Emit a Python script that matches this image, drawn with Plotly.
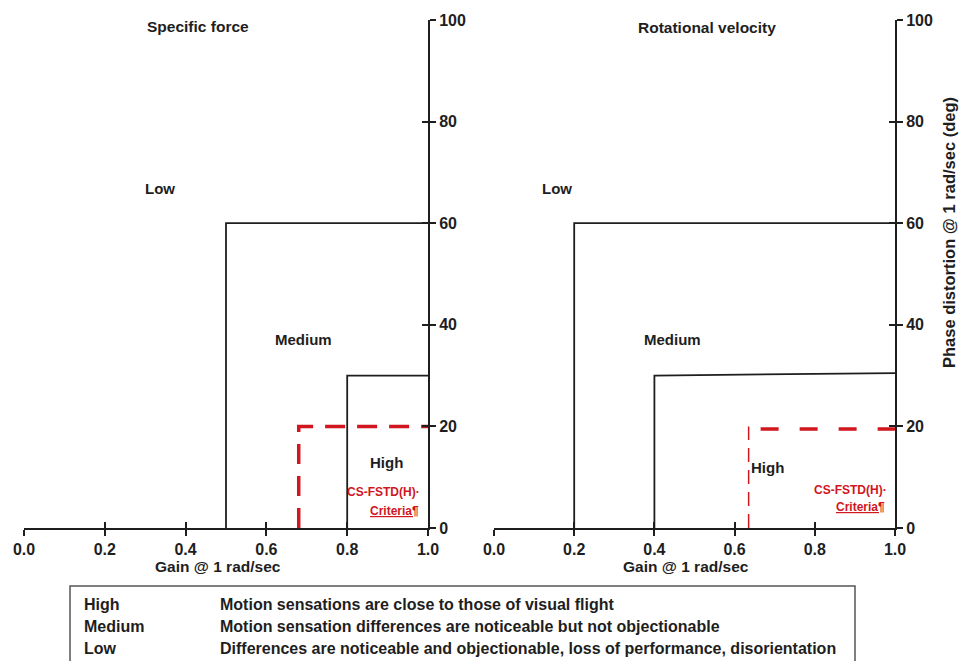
import plotly.graph_objects as go

# ---------------- data ----------------
gain_ticks = [0.0, 0.2, 0.4, 0.6, 0.8, 1.0]
gain_ticktext = ["0.0", "0.2", "0.4", "0.6", "0.8", "1.0"]
phase_ticks = [0, 20, 40, 60, 80, 100]

# Specific force boundaries (gain, phase)
sf_medium_x = [0.5, 0.5, 1.0]
sf_medium_y = [0, 60, 60]
sf_high_x = [0.8, 0.8, 1.0]
sf_high_y = [0, 30, 30]
sf_cs_x = [0.68, 0.68, 1.0]
sf_cs_y = [0, 20, 20]

# Rotational velocity boundaries
rv_medium_x = [0.2, 0.2, 1.0]
rv_medium_y = [0, 60, 60]
rv_high_x = [0.4, 0.4, 1.0]
rv_high_y = [0, 30, 30.5]
rv_cs_vx = [0.635, 0.635]
rv_cs_vy = [0, 20]
rv_cs_hx = [0.64, 1.0]
rv_cs_hy = [19.5, 19.5]

table_levels = ["High", "Medium", "Low"]
table_desc = [
    "Motion sensations are close to those of visual flight",
    "Motion sensation differences are noticeable but not objectionable",
    "Differences are noticeable and objectionable, loss of performance, disorientation",
]

# ---------------- figure ----------------
W, H = 959, 661
BLACK = "#1e1e1e"
RED = "#d0161e"
FONT = "Liberation Sans"

def px(v):
    return v / W

def py(v):
    return 1 - v / H

left_dom = [px(24), px(428)]
right_dom = [px(494), px(895)]
y_dom = [py(528), py(20)]

fig = go.Figure()

def line(x, y, xa, ya, color=BLACK, width=1.8, dash="solid"):
    fig.add_trace(go.Scatter(x=x, y=y, xaxis=xa, yaxis=ya, mode="lines",
                             line=dict(color=color, width=width, dash=dash),
                             hoverinfo="skip", showlegend=False))

line(sf_medium_x, sf_medium_y, "x", "y")
line(sf_high_x, sf_high_y, "x", "y")
line(sf_cs_x, sf_cs_y, "x", "y", color=RED, width=3.5, dash="20px,12px")

line(rv_medium_x, rv_medium_y, "x2", "y2")
line(rv_high_x, rv_high_y, "x2", "y2")
line(rv_cs_vx, rv_cs_vy, "x2", "y2", color=RED, width=1.5, dash="14px,8px")
line(rv_cs_hx, rv_cs_hy, "x2", "y2", color=RED, width=3.5, dash="0px,10px,18px,11px")

# invisible traces for overlay axes (inside tick marks)
for xa, ya in (("x3", "y3"), ("x4", "y4")):
    fig.add_trace(go.Scatter(x=[None], y=[None], xaxis=xa, yaxis=ya, mode="lines",
                             showlegend=False, hoverinfo="skip"))

tickfont = dict(family=FONT, size=16, color=BLACK, weight="bold")

def xax(dom, anchor, inside=False, overlay=None):
    d = dict(domain=dom, range=[0, 1], anchor=anchor, tickmode="array",
             tickvals=gain_ticks, ticktext=gain_ticktext, showgrid=False,
             zeroline=False, ticklen=6, tickwidth=2, tickcolor=BLACK,
             fixedrange=True, automargin=False)
    if inside:
        d.update(ticks="inside", showticklabels=False, showline=False, overlaying=overlay)
    else:
        d.update(ticks="outside", showline=True, linewidth=2, linecolor=BLACK,
                 tickfont=tickfont)
    return d

def yax(anchor, inside=False, overlay=None):
    d = dict(domain=y_dom, range=[0, 100], anchor=anchor, side="right",
             tickmode="array", tickvals=phase_ticks, showgrid=False,
             zeroline=False, ticklen=6, tickwidth=2, tickcolor=BLACK,
             fixedrange=True, automargin=False)
    if inside:
        d.update(ticks="inside", showticklabels=False, showline=False, overlaying=overlay)
    else:
        d.update(ticks="outside", showline=True, linewidth=2, linecolor=BLACK,
                 tickfont=tickfont)
    return d

fig.update_layout(
    width=W, height=H,
    margin=dict(l=0, r=0, t=0, b=0, autoexpand=False),
    paper_bgcolor="white", plot_bgcolor="rgba(0,0,0,0)",
    showlegend=False,
    xaxis=xax(left_dom, "y"),
    yaxis=yax("x"),
    xaxis2=xax(right_dom, "y2"),
    yaxis2=yax("x2"),
    xaxis3=xax(left_dom, "y3", inside=True, overlay="x"),
    yaxis3=yax("x3", inside=True, overlay="y"),
    xaxis4=xax(right_dom, "y4", inside=True, overlay="x2"),
    yaxis4=yax("x4", inside=True, overlay="y2"),
)

ann = []

def label(text, x, y, xref, yref, size=14, color=BLACK, bold=True, xanchor="center", **kw):
    ann.append(dict(text=text, x=x, y=y, xref=xref, yref=yref, showarrow=False,
                    xanchor=xanchor, yanchor="middle",
                    font=dict(family=FONT, size=size, color=color,
                              weight="bold" if bold else "normal"), **kw))

# panel texts – left
label("Specific force", 0.431, 98.8, "x", "y", size=15.5)
label("Low", 0.337, 66.9, "x", "y", size=15)
label("Medium", 0.693, 37.2, "x", "y", size=15)
label("High", 0.898, 12.8, "x", "y", size=15)
label("CS-FSTD(H)·", 0.889, 7.1, "x", "y", size=12, color=RED)
label("<u>Criteria¶</u>", 0.916, 3.4, "x", "y", size=12, color=RED)

# panel texts – right
label("Rotational velocity", 0.531, 98.6, "x2", "y2", size=15.5)
label("Low", 0.157, 66.9, "x2", "y2", size=15)
label("Medium", 0.446, 37.2, "x2", "y2", size=15)
label("High", 0.683, 12.0, "x2", "y2", size=15)
label("CS-FSTD(H)·", 0.888, 7.5, "x2", "y2", size=12, color=RED)
label("<u>Criteria¶</u>", 0.915, 4.1, "x2", "y2", size=12, color=RED)

# axis titles
label("Gain @ 1 rad/sec", px(218), py(566), "paper", "paper", size=15.5)
label("Gain @ 1 rad/sec", px(686), py(566), "paper", "paper", size=15.5)
label("Phase distortion @ 1 rad/sec (deg)", px(949), py(233), "paper", "paper",
      size=16.5, textangle=-90)

# table
rows_y = [604, 626, 648]
for lvl, desc, ry in zip(table_levels, table_desc, rows_y):
    label(lvl, px(82), py(ry), "paper", "paper", size=16, xanchor="left")
    label(desc, px(218), py(ry), "paper", "paper", size=16, xanchor="left")

fig.update_layout(annotations=ann)

fig.add_shape(type="rect", xref="paper", yref="paper",
              x0=px(70), x1=px(855), y0=py(675), y1=py(586),
              line=dict(color="#555555", width=1.5), fillcolor="rgba(0,0,0,0)")

fig.write_html("out.html", config={"displayModeBar": False},
               post_script="document.body.style.margin='0';document.body.style.overflow='hidden';")
